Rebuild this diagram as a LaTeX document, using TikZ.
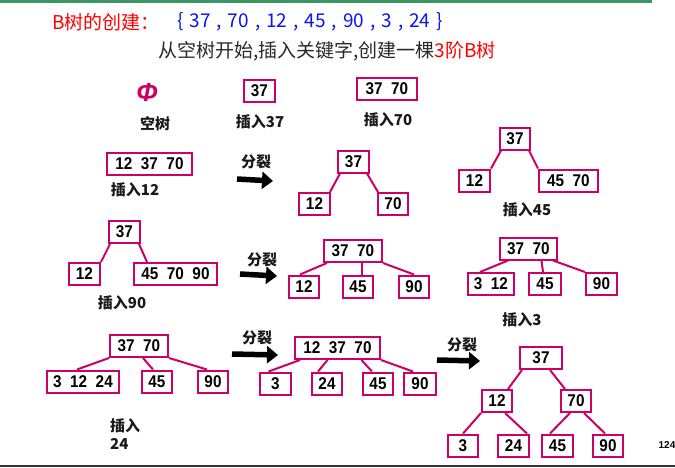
\documentclass[tikz,border=0pt]{standalone}
\usepackage{fontspec}
\setmainfont{Liberation Sans}
\newfontfamily\cjk{Noto Sans CJK SC}
\newfontfamily\keyfont[FakeStretch=0.9]{Liberation Sans}
\usetikzlibrary{arrows.meta}
\definecolor{bnode}{RGB}{204,0,102}
\definecolor{titlered}{RGB}{255,0,0}
\definecolor{setblue}{RGB}{10,20,245}
\definecolor{topgreen}{RGB}{60,150,100}
\definecolor{subgray}{RGB}{40,40,40}
\tikzstyle{keybox} = [rectangle, draw=bnode, line width=2pt, minimum height=22, inner sep=0pt, font={\keyfont\bfseries\fontsize{17}{17}\selectfont}]
\tikzstyle{link} = [draw=bnode, line width=2pt]
\tikzstyle{caption} = [font={\cjk\bfseries\fontsize{15}{18}\selectfont}, text=black!90, inner sep=0pt]
\tikzstyle{arrow} = [line width=5.5pt, -{Triangle[length=11pt,width=17pt]}]

\begin{document}
\begin{tikzpicture}[x=1pt, y=-1pt]
    \useasboundingbox (0,0) rectangle (675,467);
    \draw [topgreen, line width=3] (0,1.5) -- (652,1.5);
    \fill [black!80] (0,464.5) rectangle (675,467);
    % title
    \node (TitleA) [anchor=west, inner sep=0pt, text=titlered, font={\cjk\fontsize{19}{19}\selectfont}] at (52,22) {B树的创建：};
    \node (TitleB) [anchor=west, inner sep=0pt, text=setblue, font={\cjk\fontsize{19}{19}\selectfont\spaceskip=6pt}] at (177,22) {\{ 37 , 70 , 12 , 45 , 90 , 3 , 24 \}};
    \node (SubTitle) [anchor=west, inner sep=0pt, text=subgray, font={\cjk\fontsize{19}{19}\selectfont}] at (158,51) {从空树开始,插入关键字,创建一棵\textcolor{titlered}{3阶B树}};

    % empty tree, insert 37, insert 70
    \node (Phi) [text=bnode, font={\bfseries\itshape\fontsize{26}{26}\selectfont}] at (147,93) {Φ};
    \node (EmptyCap) [caption] at (155,124) {空树};
    \node (Ins37) [keybox, minimum width=31] at (259.5,91) {37};
    \node (Ins37Cap) [caption] at (260,122) {插入37};
    \node (Ins70) [keybox, minimum width=60] at (387,89) {37~~70};
    \node (Ins70Cap) [caption] at (388,120) {插入70};

    % insert 12 and split
    \node (Ins12) [keybox, minimum width=85] at (149.5,163.5) {12~~37~~70};
    \node (Ins12Cap) [caption] at (135,190) {插入12};
    \node (SplitA) [caption] at (256,162) {分裂};
    \draw [arrow] (237,179) -- (273,181);
    \node (S1Root) [keybox, minimum width=31] at (353.5,161.5) {37};
    \node (S1Left) [keybox, minimum width=31] at (314.5,204) {12};
    \node (S1Right) [keybox, minimum width=30] at (393,204) {70};
    \draw [link] ([xshift=3]S1Root.south west) -- ([xshift=-1]S1Left.north east);
    \draw [link] ([xshift=-3]S1Root.south east) -- ([xshift=1]S1Right.north west);

    % insert 45
    \node (T45Root) [keybox, minimum width=30] at (515,138.5) {37};
    \node (T45L) [keybox, minimum width=31] at (474.5,180.5) {12};
    \node (T45R) [keybox, minimum width=59] at (568.5,180.5) {45~~70};
    \draw [link] ([xshift=2]T45Root.south west) -- (T45L.north east);
    \draw [link] ([xshift=-2]T45Root.south east) -- (T45R.north west);
    \node (Ins45Cap) [caption] at (527,210) {插入45};

    % insert 90 and split
    \node (T90Root) [keybox, minimum width=31] at (124.5,232) {37};
    \node (T90L) [keybox, minimum width=31] at (84.5,274) {12};
    \node (T90R) [keybox, minimum width=83] at (175.5,274) {45~~70~~90};
    \draw [link] ([xshift=2]T90Root.south west) -- (T90L.north east);
    \draw [link] ([xshift=-2]T90Root.south east) -- ([xshift=14]T90R.north west);
    \node (Ins90Cap) [caption] at (122,303) {插入90};
    \node (SplitB) [caption] at (262,260) {分裂};
    \draw [arrow] (240,274) -- (277,276);
    \node (S2Root) [keybox, minimum width=58] at (353,251) {37~~70};
    \node (S2A) [keybox, minimum width=30] at (304,286.5) {12};
    \node (S2B) [keybox, minimum width=30] at (358,286.5) {45};
    \node (S2C) [keybox, minimum width=30] at (414,286.5) {90};
    \draw [link] ([xshift=4]S2Root.south west) -- ([xshift=12]S2A.north west);
    \draw [link] ([xshift=9]S2Root.south) -- ([xshift=4]S2B.north);
    \draw [link] (S2Root.south east) -- (S2C.north);

    % insert 3
    \node (T3Root) [keybox, minimum width=57] at (528.5,248.5) {37~~70};
    \node (T3A) [keybox, minimum width=46] at (491,284) {3~~12};
    \node (T3B) [keybox, minimum width=32] at (545,284) {45};
    \node (T3C) [keybox, minimum width=31] at (601.5,284) {90};
    \draw [link] ([xshift=9]T3Root.south west) -- ([xshift=13]T3A.north west);
    \draw [link] ([xshift=13]T3Root.south) -- ([xshift=-2]T3B.north);
    \draw [link] ([xshift=-5]T3Root.south east) -- (T3C.north west);
    \node (Ins3Cap) [caption] at (522,320) {插入3};

    % insert 24 and split twice
    \node (T24Root) [keybox, minimum width=58] at (139,346) {37~~70};
    \node (T24A) [keybox, minimum width=72] at (83,381.5) {3~~12~~24};
    \node (T24B) [keybox, minimum width=30] at (157,381.5) {45};
    \node (T24C) [keybox, minimum width=30] at (213,381.5) {90};
    \draw [link] (T24Root.south west) -- ([xshift=31]T24A.north west);
    \draw [link] ([xshift=4]T24Root.south) -- ([xshift=-4]T24B.north);
    \draw [link] (T24Root.south east) -- ([xshift=10]T24C.north west);
    \node (Ins24Cap) [caption, anchor=west, align=left] at (110,434) {插入\\24};
    \node (SplitC) [caption] at (257,338) {分裂};
    \draw [arrow] (232,354) -- (278,355);
    \node (S3Root) [keybox, minimum width=85] at (337.5,348) {12~~37~~70};
    \node (S3A) [keybox, minimum width=31] at (275.5,383.5) {3};
    \node (S3B) [keybox, minimum width=30] at (327,383.5) {24};
    \node (S3C) [keybox, minimum width=30] at (378,383.5) {45};
    \node (S3D) [keybox, minimum width=32] at (420,383.5) {90};
    \draw [link] ([xshift=6]S3Root.south west) -- ([xshift=-7]S3A.north);
    \draw [link] ([xshift=-10]S3Root.south) -- ([xshift=-9]S3B.north);
    \draw [link] ([xshift=24]S3Root.south) -- ([xshift=-6]S3C.north);
    \draw [link] (S3Root.south east) -- ([xshift=-7]S3D.north);
    \node (SplitD) [caption] at (462,345) {分裂};
    \draw [arrow] (437,360) -- (480,361);
    \node (FRoot) [keybox, minimum width=42] at (541,358) {37};
    \node (F12) [keybox, minimum width=30] at (497,401) {12};
    \node (F70) [keybox, minimum width=30] at (576,401) {70};
    \node (F3) [keybox, minimum width=30] at (463,445.5) {3};
    \node (F24) [keybox, minimum width=31] at (513.5,445.5) {24};
    \node (F45) [keybox, minimum width=31] at (557.5,445.5) {45};
    \node (F90) [keybox, minimum width=30] at (608,445.5) {90};
    \draw [link] ([xshift=3]FRoot.south west) -- ([xshift=-5]F12.north east);
    \draw [link] ([xshift=-13]FRoot.south east) -- ([xshift=5]F70.north west);
    \draw [link] (F12.south west) -- (F3.north);
    \draw [link] ([xshift=-8]F12.south east) -- ([xshift=13.5]F24.north);
    \draw [link] ([xshift=-6]F70.south) -- ([xshift=-7.5]F45.north);
    \draw [link] ([xshift=-8]F70.south east) -- ([xshift=-3]F90.north);
    \node (PageNo) [font={\bfseries\fontsize{10}{10}\selectfont}] at (667,445) {124};
\end{tikzpicture}
\end{document}
